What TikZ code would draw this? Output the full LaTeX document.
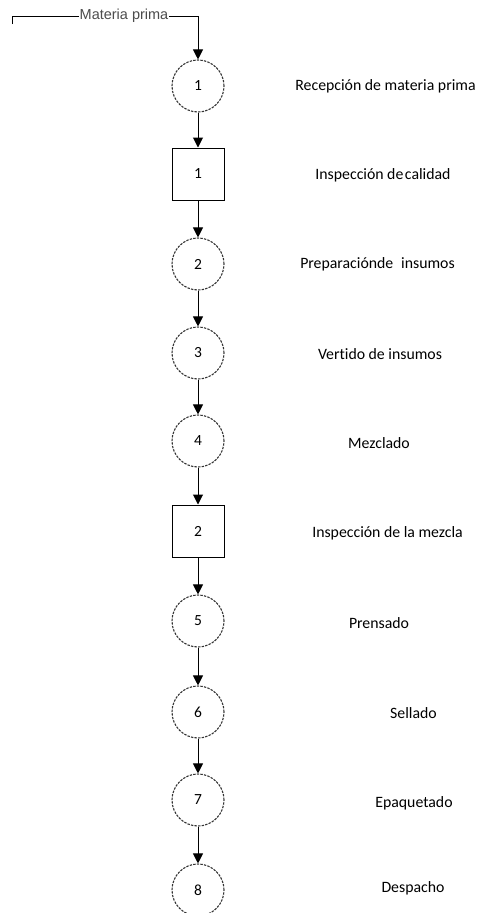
\documentclass[tikz,border=0pt]{standalone}
\usepackage{fontspec}
\setmainfont{Carlito}[Ligatures=NoCommon]
\newfontfamily\labelfont{Liberation Sans}
\usetikzlibrary{arrows.meta}
\tikzset{
  opc/.style={circle, draw=black!80, dash pattern=on 2.4pt off 1.2pt, line width=1.1pt, minimum size=52pt, inner sep=0pt, font=\fontsize{15.5}{18}\selectfont},
  insp/.style={rectangle, draw=black, line width=1pt, minimum size=52pt, inner sep=0pt, font=\fontsize{15.5}{18}\selectfont},
  desc/.style={anchor=center, inner sep=0pt, font=\fontsize{15.8}{18}\selectfont},
  flow/.style={line width=1pt, -{Triangle[width=10pt,length=10pt]}},
}
\begin{document}
\begin{tikzpicture}[x=1pt,y=-1pt]
\useasboundingbox (0,0) rectangle (478,913);
% nodes
\node[opc]  (c1) at (198,86)  {1};
\node[insp] (s1) at (198,174) {1};
\node[opc]  (c2) at (198,264) {2};
\node[opc]  (c3) at (198,353) {3};
\node[opc]  (c4) at (198,441) {4};
\node[insp] (s2) at (198,531) {2};
\node[opc]  (c5) at (198,621) {5};
\node[opc]  (c6) at (198,712) {6};
\node[opc]  (c7) at (198,800) {7};
\node[opc]  (c8) at (198,890) {8};
% descriptions
\node[desc] (d1) at (385.5,86) {Recepción de materia prima};
\node[desc] (d2) at (383,175) {Inspección de\hspace{0.1em}calidad};
\node[desc] (d3) at (377.5,264) {Preparaciónde\hspace{0.5em}insumos};
\node[desc] (d4) at (380,354) {Vertido de insumos};
\node[desc] (d5) at (379,443) {Mezclado};
\node[desc] (d6) at (387.5,533) {Inspección de la mezcla};
\node[desc] (d7) at (379,623) {Prensado};
\node[desc] (d8) at (413.5,713) {Sellado};
\node[desc] (d9) at (414,803) {Epaquetado};
\node[desc] (d10) at (413,888) {Despacho};
% input line
\coordinate (p0) at (12,24);
\coordinate (p1) at (12,16);
\coordinate (p2) at (198,16);
\draw[flow] (p0) -- (p1) -- (p2) -- (c1.north);
\node[fill=white, inner sep=1pt, text=black!70, font=\labelfont\fontsize{14.5}{17}\selectfont] (mp) at (124,16) {Materia prima};
% connectors
\draw[flow] (c1.south) -- (s1.north);
\draw[flow] (s1.south) -- (c2.north);
\draw[flow] (c2.south) -- (c3.north);
\draw[flow] (c3.south) -- (c4.north);
\draw[flow] (c4.south) -- (s2.north);
\draw[flow] (s2.south) -- (c5.north);
\draw[flow] (c5.south) -- (c6.north);
\draw[flow] (c6.south) -- (c7.north);
\draw[flow] (c7.south) -- (c8.north);
\end{tikzpicture}
\end{document}
